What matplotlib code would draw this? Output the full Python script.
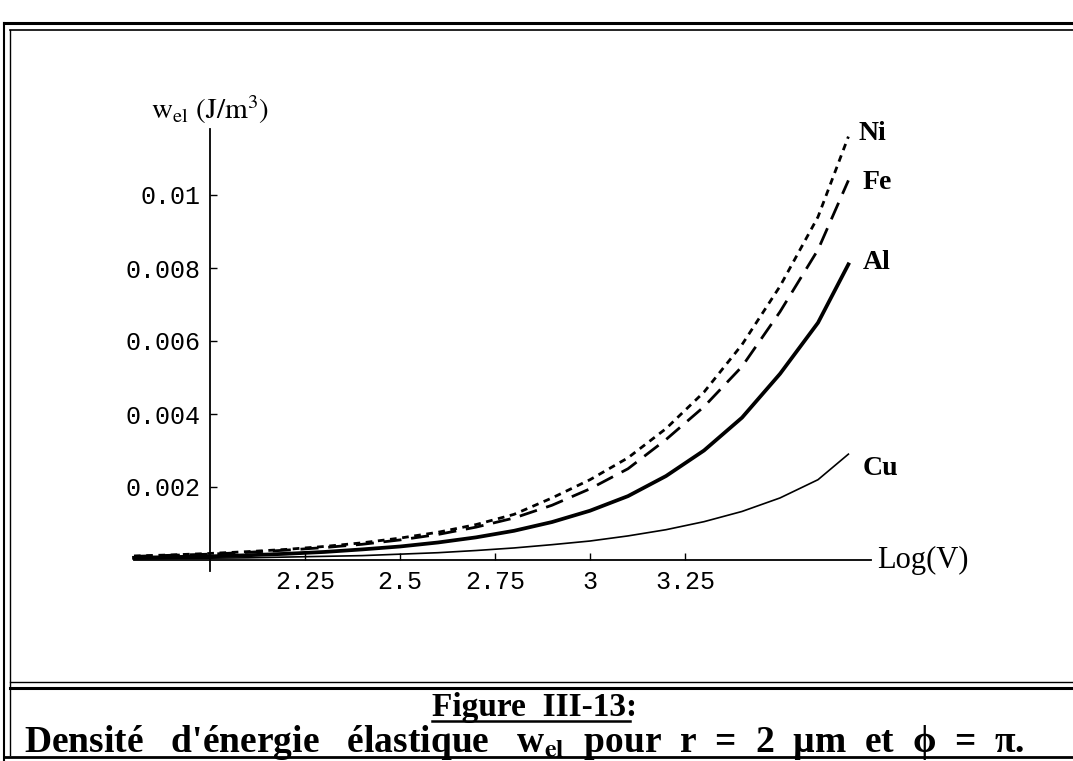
import matplotlib
matplotlib.use("Agg")
import matplotlib.pyplot as plt
from matplotlib.lines import Line2D

plt.rcParams["mathtext.fontset"] = "stix"

# Log(V) abscissa
log_v = [1.8, 1.9, 2.0, 2.1, 2.2, 2.3, 2.4, 2.5, 2.6, 2.7,
         2.8, 2.9, 3.0, 3.1, 3.2, 3.3, 3.4, 3.5, 3.6, 3.68]

# energy density w_el (J/m^3)
w_ni = [0.00011, 0.00014, 0.00018, 0.00023, 0.00029, 0.00037, 0.00047, 0.0006, 0.00076, 0.00097,
        0.00125, 0.0017, 0.0022, 0.0028, 0.0036, 0.0046, 0.0059, 0.0075, 0.0094, 0.0116]
w_fe = [0.0001, 0.00013, 0.00016, 0.00021, 0.00027, 0.00034, 0.00043, 0.00055, 0.0007, 0.0009,
        0.00115, 0.0015, 0.00195, 0.0025, 0.0033, 0.0042, 0.0053, 0.0068, 0.0085, 0.0104]
w_al = [0.00006, 0.00008, 0.0001, 0.00013, 0.00017, 0.00022, 0.00029, 0.00037, 0.00048, 0.00062,
        0.0008, 0.00104, 0.00135, 0.00175, 0.0023, 0.003, 0.0039, 0.0051, 0.0065, 0.0081]
w_cu = [0.00003, 0.00004, 0.00005, 0.00006, 0.00008, 0.0001, 0.00012, 0.00016, 0.0002, 0.00026,
        0.00033, 0.00042, 0.00052, 0.00066, 0.00083, 0.00105, 0.00133, 0.0017, 0.0022, 0.0029]

metals = ["Ni", "Fe", "Al", "Cu"]
x_ticks = [2.25, 2.5, 2.75, 3.0, 3.25]
x_tick_labels = ["2.25", "2.5", "2.75", "3", "3.25"]
y_ticks = [0.002, 0.004, 0.006, 0.008, 0.01]
y_tick_labels = ["0.002", "0.004", "0.006", "0.008", "0.01"]

W, H = 1073, 761
fig = plt.figure(figsize=(W / 100, H / 100), dpi=100)

# axes placed so that x=2 sits at px 210 and y=0 at px 560
x_lo, x_hi = 1.75, 3.8
y_lo, y_hi = -0.0006, 0.0125
left_px = 210 - (2 - x_lo) * 380
right_px = 210 + (x_hi - 2) * 380
bottom_px = 560 - y_lo * 36500
top_px = 560 - y_hi * 36500
ax = fig.add_axes([left_px / W, 1 - bottom_px / H,
                   (right_px - left_px) / W, (bottom_px - top_px) / H])
ax.set_xlim(x_lo, x_hi)
ax.set_ylim(y_lo, y_hi)

styles = {
    "Ni": dict(lw=2.0, linestyle=(0, (2.4, 2.0))),
    "Fe": dict(lw=2.0, linestyle=(0, (6.5, 3.5))),
    "Al": dict(lw=2.7, linestyle="-"),
    "Cu": dict(lw=1.2, linestyle="-"),
}
series = {"Ni": w_ni, "Fe": w_fe, "Al": w_al, "Cu": w_cu}
for m in metals:
    ax.plot(log_v, series[m], color="black", **styles[m])

# Mathematica-like crossing axes
for s in ["top", "right"]:
    ax.spines[s].set_visible(False)
ax.spines["left"].set_position(("data", 2.0))
ax.spines["bottom"].set_position(("data", 0.0))
ax.spines["left"].set_bounds(-0.0003, 0.0118)
ax.spines["bottom"].set_bounds(1.8, 3.74)
ax.spines["left"].set_linewidth(1.3)
ax.spines["bottom"].set_linewidth(1.3)
ax.set_xticks(x_ticks)
ax.set_xticklabels(x_tick_labels)
ax.set_yticks(y_ticks)
ax.set_yticklabels(y_tick_labels)
ax.tick_params(direction="in", length=5, width=1.0)
ax.tick_params(axis="x", pad=7)
ax.tick_params(axis="y", pad=7)
for lab in ax.get_xticklabels() + ax.get_yticklabels():
    lab.set_fontfamily("Liberation Mono")
    lab.set_fontsize(18)

ax.text(1.845, 0.01235, r"$\mathrm{w_{el}\ (J/m^3)}$", fontsize=21,
        ha="left", va="center")
ax.text(3.755, 0.0, "Log(V)", family="Liberation Serif", fontsize=22,
        ha="left", va="center")

label_offsets = {"Ni": (10, 3), "Fe": (14, -2), "Al": (14, 2), "Cu": (14, -14)}
for m in metals:
    ax.annotate(m, xy=(log_v[-1], series[m][-1]), xytext=label_offsets[m],
                textcoords="offset pixels", family="Liberation Serif",
                fontweight="bold", fontsize=20, ha="left", va="center")

# frame lines around the figure and caption
def hline(y, x0, x1, lw):
    fig.add_artist(Line2D([x0 / W, x1 / W], [1 - y / H, 1 - y / H],
                          color="black", lw=lw, transform=fig.transFigure))

def vline(x, y0, y1, lw):
    fig.add_artist(Line2D([x / W, x / W], [1 - y0 / H, 1 - y1 / H],
                          color="black", lw=lw, transform=fig.transFigure))

hline(23, 4, W, 2.2)
hline(30, 10, W, 1.2)
vline(4, 23, 760, 1.5)
vline(10, 30, 755, 1.0)
hline(682, 10, W, 1.0)
hline(688, 10, W, 2.2)
hline(757, 4, W, 2.0)

cap1 = fig.text(535 / W, 1 - 716 / H, "Figure  III-13:", family="Liberation Serif",
                fontweight="bold", fontsize=24, ha="center", va="baseline")
fig.text(524 / W, 1 - 752 / H,
         "Densité   d'énergie   élastique   w$_{\\mathbf{el}}$  pour  r  =  2  µm  et  ϕ  =  π.",
         family="Liberation Serif", fontweight="bold", fontsize=27,
         ha="center", va="baseline")

# underline for the figure number
fig.canvas.draw()
bb = cap1.get_window_extent(renderer=fig.canvas.get_renderer())
y_ul = (H - 721) / H
fig.add_artist(Line2D([bb.x0 / W, (bb.x1 - 8) / W], [y_ul, y_ul],
                      color="black", lw=1.8, transform=fig.transFigure))

fig.savefig("out.png", dpi=100)
